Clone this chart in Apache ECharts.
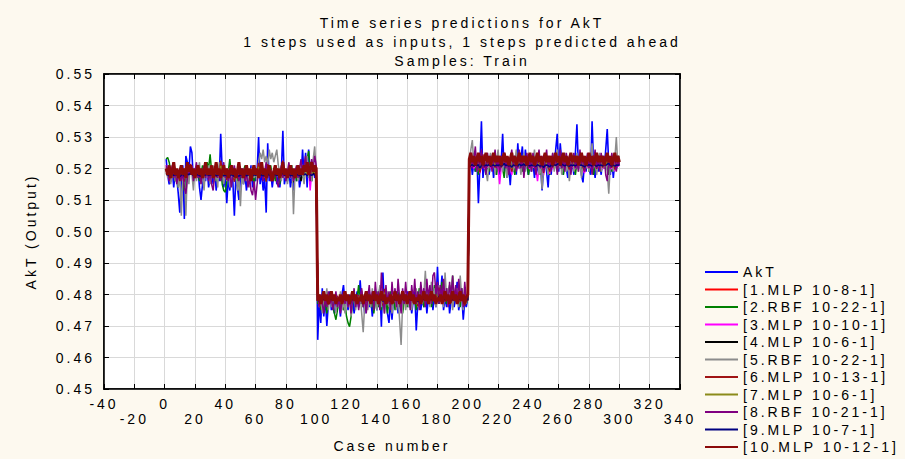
<!DOCTYPE html>
<html>
<head>
<meta charset="utf-8">
<script src="https://cdn.jsdelivr.net/npm/echarts@6/dist/echarts.min.js"></script>
<style>
  html, body { margin: 0; padding: 0; background: #FDF9EF; }
  #chart { width: 905px; height: 459px; }
  #chart svg text { letter-spacing: 3px; }
</style>
</head>
<body>
<div id="chart"></div>
<script>
const seriesNames = ['AkT', '[1.MLP 10-8-1]', '[2.RBF 10-22-1]', '[3.MLP 10-10-1]', '[4.MLP 10-6-1]',
  '[5.RBF 10-22-1]', '[6.MLP 10-13-1]', '[7.MLP 10-6-1]', '[8.RBF 10-21-1]', '[9.MLP 10-7-1]', '[10.MLP 10-12-1]']
const seriesColors = ['#0000FF', '#FF0000', '#008000', '#FF00FF', '#000000',
  '#8C8C8C', '#A01414', '#8B8B1A', '#800080', '#000080', '#8B0A0A']
const titleLines = ['Time series predictions for AkT', '1 steps used as inputs, 1 steps predicted ahead', 'Samples: Train']

// AkT (target)
const aktValues = [
  0.523,0.518,0.515,0.516,0.520,0.514,0.519,0.517,0.512,0.506,
  0.516,0.521,0.504,0.524,0.522,0.519,0.527,0.525,0.516,0.519,
  0.517,0.520,0.514,0.510,0.515,0.519,0.516,0.521,0.514,0.517,
  0.519,0.515,0.520,0.513,0.518,0.516,0.531,0.519,0.514,0.518,
  0.509,0.517,0.513,0.519,0.516,0.505,0.518,0.514,0.510,0.517,
  0.520,0.515,0.518,0.513,0.519,0.516,0.521,0.514,0.518,0.516,
  0.519,0.530,0.515,0.519,0.513,0.517,0.506,0.528,0.516,0.519,
  0.514,0.518,0.520,0.515,0.518,0.514,0.519,0.532,0.515,0.518,
  0.516,0.520,0.514,0.518,0.513,0.519,0.516,0.520,0.514,0.517,
  0.526,0.518,0.525,0.514,0.526,0.519,0.516,0.521,0.517,0.519,
  0.4656,0.478,0.471,0.482,0.473,0.479,0.470,0.477,0.481,0.475,
  0.479,0.474,0.480,0.476,0.478,0.473,0.480,0.483,0.477,0.479,
  0.475,0.480,0.476,0.479,0.474,0.478,0.481,0.476,0.4845,0.477,
  0.479,0.474,0.478,0.481,0.476,0.479,0.473,0.478,0.480,0.475,
  0.478,0.482,0.4698,0.487,0.476,0.479,0.474,0.471,0.478,0.472,
  0.479,0.476,0.481,0.474,0.478,0.480,0.475,0.479,0.477,0.481,
  0.476,0.479,0.474,0.478,0.481,0.4686,0.477,0.480,0.475,0.479,
  0.476,0.481,0.474,0.479,0.477,0.483,0.475,0.480,0.476,0.4888,
  0.477,0.480,0.486,0.475,0.479,0.476,0.481,0.474,0.478,0.480,
  0.476,0.479,0.484,0.475,0.478,0.480,0.472,0.478,0.476,0.479,
  0.520,0.523,0.518,0.522,0.519,0.524,0.509,0.521,0.535,0.517,
  0.522,0.519,0.524,0.518,0.521,0.523,0.517,0.522,0.519,0.524,
  0.518,0.522,0.531,0.519,0.523,0.517,0.521,0.5147,0.522,0.519,
  0.524,0.518,0.528,0.520,0.523,0.527,0.519,0.526,0.521,0.518,
  0.523,0.519,0.522,0.517,0.524,0.520,0.518,0.522,0.513,0.520,
  0.523,0.519,0.514,0.522,0.518,0.524,0.520,0.526,0.531,0.519,
  0.528,0.522,0.518,0.524,0.520,0.517,0.523,0.519,0.522,0.518,
  0.525,0.534,0.520,0.523,0.518,0.5156,0.522,0.519,0.524,0.520,
  0.518,0.535,0.521,0.517,0.523,0.519,0.522,0.518,0.524,0.520,
  0.526,0.5325,0.521,0.518,0.523,0.517,0.522,0.520,0.524,0.521
]

// 1.MLP 10-8-1
const mlp1Values = [
  0.5192,0.5186,0.5190,0.5184,0.5189,0.5193,0.5185,0.5188,0.5183,0.5187,
  0.5191,0.5185,0.5189,0.5182,0.5190,0.5194,0.5187,0.5191,0.5185,0.5188,
  0.5184,0.5190,0.5186,0.5189,0.5183,0.5188,0.5192,0.5186,0.5190,0.5185,
  0.5189,0.5184,0.5188,0.5191,0.5185,0.5189,0.5183,0.5190,0.5186,0.5188,
  0.5184,0.5189,0.5185,0.5191,0.5187,0.5183,0.5189,0.5185,0.5190,0.5186,
  0.5188,0.5184,0.5190,0.5186,0.5189,0.5185,0.5191,0.5184,0.5188,0.5186,
  0.5190,0.5193,0.5186,0.5189,0.5185,0.5188,0.5183,0.5192,0.5186,0.5189,
  0.5185,0.5188,0.5190,0.5186,0.5189,0.5184,0.5188,0.5194,0.5186,0.5189,
  0.5187,0.5190,0.5185,0.5189,0.5184,0.5190,0.5186,0.5189,0.5185,0.5188,
  0.5192,0.5187,0.5191,0.5185,0.5192,0.5188,0.5186,0.5190,0.5187,0.5189,
  0.4790,0.4784,0.4788,0.4783,0.4789,0.4785,0.4791,0.4784,0.4788,0.4786,
  0.4789,0.4785,0.4788,0.4786,0.4787,0.4784,0.4789,0.4791,0.4785,0.4788,
  0.4784,0.4789,0.4785,0.4788,0.4784,0.4787,0.4790,0.4785,0.4791,0.4786,
  0.4788,0.4784,0.4787,0.4790,0.4785,0.4788,0.4783,0.4787,0.4789,0.4785,
  0.4788,0.4790,0.4783,0.4792,0.4785,0.4788,0.4784,0.4783,0.4788,0.4784,
  0.4789,0.4786,0.4790,0.4784,0.4788,0.4789,0.4785,0.4788,0.4786,0.4790,
  0.4785,0.4788,0.4784,0.4787,0.4790,0.4783,0.4786,0.4789,0.4785,0.4788,
  0.4786,0.4790,0.4784,0.4788,0.4786,0.4790,0.4785,0.4789,0.4786,0.4793,
  0.4786,0.4789,0.4791,0.4785,0.4788,0.4786,0.4790,0.4784,0.4788,0.4789,
  0.4785,0.4788,0.4791,0.4785,0.4787,0.4789,0.4783,0.4787,0.4785,0.4788,
  0.5213,0.5217,0.5212,0.5216,0.5213,0.5218,0.5211,0.5215,0.5221,0.5214,
  0.5216,0.5213,0.5217,0.5212,0.5215,0.5217,0.5213,0.5216,0.5213,0.5217,
  0.5212,0.5215,0.5220,0.5213,0.5216,0.5212,0.5215,0.5211,0.5216,0.5213,
  0.5217,0.5213,0.5219,0.5214,0.5216,0.5218,0.5213,0.5217,0.5215,0.5213,
  0.5216,0.5213,0.5215,0.5212,0.5217,0.5214,0.5213,0.5215,0.5210,0.5214,
  0.5216,0.5213,0.5211,0.5215,0.5213,0.5217,0.5214,0.5218,0.5220,0.5213,
  0.5219,0.5215,0.5213,0.5217,0.5214,0.5212,0.5216,0.5213,0.5215,0.5213,
  0.5218,0.5221,0.5214,0.5216,0.5213,0.5211,0.5215,0.5213,0.5217,0.5214,
  0.5213,0.5222,0.5215,0.5212,0.5216,0.5213,0.5215,0.5213,0.5217,0.5214,
  0.5218,0.5220,0.5215,0.5213,0.5216,0.5212,0.5215,0.5214,0.5217,0.5215
]

// 2.RBF 10-22-1
const rbf2Values = [
  0.523,0.5235,0.522,0.519,0.517,0.520,0.516,0.518,0.514,0.517,
  0.519,0.516,0.513,0.515,0.519,0.521,0.518,0.520,0.516,0.519,
  0.517,0.520,0.516,0.518,0.521,0.517,0.519,0.522,0.520,0.5245,
  0.519,0.517,0.520,0.516,0.519,0.517,0.520,0.515,0.513,0.5125,
  0.516,0.519,0.523,0.518,0.520,0.517,0.519,0.516,0.520,0.518,
  0.516,0.519,0.521,0.517,0.519,0.516,0.520,0.518,0.515,0.519,
  0.517,0.521,0.518,0.520,0.517,0.519,0.516,0.520,0.518,0.521,
  0.517,0.519,0.516,0.520,0.518,0.515,0.519,0.521,0.517,0.519,
  0.516,0.520,0.518,0.521,0.517,0.519,0.516,0.520,0.518,0.522,
  0.517,0.520,0.518,0.523,0.5255,0.519,0.516,0.521,0.518,0.520,
  0.477,0.480,0.475,0.479,0.476,0.478,0.474,0.479,0.477,0.480,
  0.476,0.474,0.472,0.475,0.478,0.476,0.479,0.475,0.477,0.473,
  0.471,0.4698,0.473,0.477,0.480,0.476,0.479,0.483,0.477,0.480,
  0.476,0.479,0.475,0.478,0.481,0.476,0.479,0.474,0.478,0.481,
  0.476,0.479,0.475,0.480,0.477,0.479,0.474,0.478,0.481,0.476,
  0.479,0.475,0.478,0.481,0.476,0.479,0.474,0.478,0.480,0.476,
  0.479,0.476,0.481,0.477,0.479,0.475,0.478,0.482,0.477,0.480,
  0.476,0.479,0.482,0.477,0.480,0.476,0.479,0.483,0.478,0.481,
  0.477,0.480,0.484,0.478,0.481,0.477,0.480,0.483,0.479,0.486,
  0.478,0.481,0.477,0.480,0.476,0.482,0.478,0.480,0.477,0.479,
  0.520,0.524,0.521,0.525,0.519,0.522,0.518,0.523,0.520,0.524,
  0.521,0.518,0.522,0.519,0.523,0.520,0.524,0.521,0.518,0.522,
  0.519,0.523,0.520,0.517,0.522,0.519,0.523,0.520,0.524,0.521,
  0.518,0.522,0.520,0.524,0.521,0.519,0.523,0.520,0.522,0.518,
  0.521,0.524,0.520,0.522,0.519,0.523,0.521,0.518,0.522,0.520,
  0.523,0.520,0.522,0.518,0.521,0.524,0.520,0.522,0.519,0.523,
  0.520,0.522,0.518,0.521,0.524,0.520,0.522,0.519,0.523,0.521,
  0.518,0.522,0.520,0.524,0.521,0.519,0.523,0.520,0.522,0.519,
  0.523,0.521,0.518,0.522,0.520,0.524,0.521,0.519,0.522,0.520,
  0.523,0.520,0.518,0.522,0.519,0.523,0.521,0.520,0.522,0.521
]

// 3.MLP 10-10-1
const mlp3Values = [
  0.5210,0.5195,0.5185,0.5190,0.5200,0.5183,0.5195,0.5188,0.5180,0.5168,
  0.5190,0.5202,0.5165,0.5205,0.5200,0.5193,0.5212,0.5206,0.5185,0.5194,
  0.5188,0.5197,0.5182,0.5174,0.5186,0.5196,0.5187,0.5200,0.5183,0.5190,
  0.5195,0.5185,0.5198,0.5180,0.5194,0.5187,0.5220,0.5195,0.5182,0.5193,
  0.5172,0.5191,0.5180,0.5196,0.5187,0.5165,0.5194,0.5182,0.5174,0.5190,
  0.5198,0.5185,0.5193,0.5180,0.5195,0.5187,0.5200,0.5182,0.5193,0.5187,
  0.5194,0.5215,0.5185,0.5195,0.5180,0.5190,0.5166,0.5212,0.5187,0.5195,
  0.5182,0.5193,0.5198,0.5185,0.5193,0.5182,0.5195,0.5222,0.5185,0.5193,
  0.5187,0.5198,0.5182,0.5193,0.5176,0.5195,0.5187,0.5198,0.5182,0.5190,
  0.5206,0.5193,0.5204,0.5182,0.5206,0.5130,0.5187,0.5200,0.5190,0.5195,
  0.4800,0.4770,0.4788,0.4775,0.4795,0.4780,0.4790,0.4772,0.4787,0.4795,
  0.4782,0.4790,0.4778,0.4793,0.4781,0.4788,0.4777,0.4790,0.4797,0.4785,
  0.4788,0.4779,0.4792,0.4781,0.4790,0.4777,0.4787,0.4794,0.4783,0.4805,
  0.4786,0.4790,0.4778,0.4787,0.4793,0.4781,0.4790,0.4776,0.4787,0.4792,
  0.4780,0.4787,0.4796,0.4770,0.4810,0.4783,0.4790,0.4778,0.4772,0.4787,
  0.4776,0.4790,0.4782,0.4794,0.4778,0.4787,0.4792,0.4780,0.4790,0.4785,
  0.4794,0.4781,0.4790,0.4777,0.4787,0.4793,0.4768,0.4786,0.4794,0.4780,
  0.4790,0.4781,0.4794,0.4778,0.4790,0.4785,0.4798,0.4780,0.4793,0.4782,
  0.4815,0.4786,0.4791,0.4808,0.4780,0.4790,0.4782,0.4794,0.4778,0.4787,
  0.4792,0.4781,0.4790,0.4802,0.4779,0.4788,0.4792,0.4770,0.4787,0.4782,
  0.5210,0.5205,0.5215,0.5200,0.5212,0.5203,0.5217,0.5185,0.5208,0.5240,
  0.5198,0.5213,0.5203,0.5216,0.5200,0.5210,0.5215,0.5198,0.5212,0.5203,
  0.5150,0.5200,0.5208,0.5230,0.5203,0.5213,0.5198,0.5210,0.5180,0.5212,
  0.5203,0.5216,0.5198,0.5222,0.5205,0.5213,0.5220,0.5203,0.5220,0.5208,
  0.5198,0.5213,0.5203,0.5210,0.5195,0.5160,0.5205,0.5198,0.5212,0.5178,
  0.5206,0.5213,0.5203,0.5183,0.5211,0.5198,0.5216,0.5207,0.5220,0.5230,
  0.5203,0.5222,0.5211,0.5198,0.5216,0.5205,0.5192,0.5213,0.5203,0.5211,
  0.5198,0.5217,0.5235,0.5207,0.5213,0.5198,0.5185,0.5211,0.5203,0.5216,
  0.5207,0.5198,0.5238,0.5208,0.5194,0.5213,0.5203,0.5211,0.5198,0.5216,
  0.5206,0.5220,0.5232,0.5207,0.5198,0.5213,0.5192,0.5211,0.5206,0.5215
]

// 4.MLP 10-6-1
const mlp4Values = [
  0.5185,0.5178,0.5172,0.5180,0.5186,0.5176,0.5183,0.5179,0.5175,0.5168,
  0.5181,0.5186,0.5170,0.5188,0.5185,0.5183,0.5191,0.5189,0.5179,0.5183,
  0.5180,0.5184,0.5177,0.5173,0.5178,0.5183,0.5179,0.5185,0.5177,0.5181,
  0.5183,0.5178,0.5184,0.5176,0.5182,0.5179,0.5194,0.5183,0.5177,0.5182,
  0.5172,0.5181,0.5176,0.5183,0.5179,0.5168,0.5182,0.5177,0.5173,0.5181,
  0.5184,0.5178,0.5182,0.5176,0.5183,0.5179,0.5185,0.5177,0.5182,0.5179,
  0.5183,0.5193,0.5178,0.5183,0.5176,0.5181,0.5169,0.5191,0.5179,0.5183,
  0.5177,0.5182,0.5184,0.5178,0.5182,0.5177,0.5183,0.5195,0.5178,0.5182,
  0.5179,0.5184,0.5177,0.5182,0.5156,0.5183,0.5179,0.5184,0.5177,0.5160,
  0.5188,0.5182,0.5188,0.5177,0.5189,0.5183,0.5179,0.5185,0.5181,0.5183,
  0.4795,0.4770,0.4787,0.4776,0.4791,0.4780,0.4788,0.4775,0.4786,0.4790,
  0.4782,0.4788,0.4780,0.4789,0.4783,0.4786,0.4779,0.4787,0.4792,0.4784,
  0.4787,0.4781,0.4788,0.4783,0.4787,0.4780,0.4786,0.4789,0.4783,0.4795,
  0.4785,0.4787,0.4781,0.4786,0.4789,0.4783,0.4787,0.4780,0.4786,0.4788,
  0.4782,0.4786,0.4790,0.4775,0.4800,0.4783,0.4787,0.4781,0.4778,0.4786,
  0.4779,0.4787,0.4783,0.4789,0.4781,0.4786,0.4788,0.4782,0.4787,0.4785,
  0.4789,0.4783,0.4787,0.4781,0.4786,0.4789,0.4773,0.4785,0.4788,0.4782,
  0.4787,0.4783,0.4789,0.4781,0.4787,0.4785,0.4792,0.4782,0.4788,0.4783,
  0.4806,0.4785,0.4788,0.4798,0.4782,0.4787,0.4783,0.4789,0.4781,0.4786,
  0.4788,0.4783,0.4787,0.4796,0.4782,0.4786,0.4788,0.4776,0.4786,0.4783,
  0.5205,0.5210,0.5215,0.5208,0.5214,0.5209,0.5216,0.5195,0.5211,0.5225,
  0.5207,0.5213,0.5209,0.5215,0.5208,0.5212,0.5214,0.5207,0.5213,0.5209,
  0.5215,0.5207,0.5212,0.5222,0.5209,0.5214,0.5207,0.5212,0.5200,0.5213,
  0.5209,0.5215,0.5208,0.5219,0.5210,0.5214,0.5218,0.5209,0.5217,0.5212,
  0.5208,0.5214,0.5209,0.5212,0.5206,0.5215,0.5210,0.5208,0.5213,0.5199,
  0.5211,0.5214,0.5209,0.5201,0.5213,0.5208,0.5215,0.5211,0.5217,0.5222,
  0.5209,0.5219,0.5213,0.5208,0.5215,0.5210,0.5206,0.5214,0.5209,0.5213,
  0.5208,0.5216,0.5224,0.5211,0.5214,0.5208,0.5202,0.5213,0.5209,0.5215,
  0.5211,0.5208,0.5225,0.5212,0.5206,0.5214,0.5209,0.5213,0.5208,0.5215,
  0.5211,0.5217,0.5223,0.5211,0.5208,0.5214,0.5206,0.5213,0.5211,0.5215
]

// 5.RBF 10-22-1
const rbf5Values = [
  0.520,0.517,0.519,0.515,0.518,0.521,0.516,0.519,0.514,0.518,
  0.505,0.517,0.520,0.505,0.519,0.515,0.521,0.518,0.513,0.520,
  0.516,0.519,0.522,0.515,0.518,0.513,0.520,0.517,0.521,0.515,
  0.518,0.521,0.516,0.519,0.514,0.522,0.517,0.520,0.515,0.519,
  0.516,0.520,0.514,0.518,0.521,0.516,0.519,0.513,0.517,0.508,
  0.518,0.515,0.520,0.516,0.519,0.514,0.518,0.521,0.517,0.519,
  0.516,0.522,0.525,0.523,0.526,0.522,0.524,0.521,0.526,0.523,
  0.525,0.522,0.524,0.526,0.521,0.519,0.516,0.520,0.517,0.519,
  0.515,0.519,0.517,0.521,0.5055,0.518,0.520,0.516,0.519,0.522,
  0.518,0.515,0.520,0.524,0.517,0.521,0.516,0.523,0.527,0.519,
  0.481,0.476,0.479,0.474,0.480,0.477,0.482,0.475,0.479,0.476,
  0.480,0.477,0.474,0.479,0.476,0.481,0.475,0.478,0.474,0.480,
  0.476,0.479,0.473,0.478,0.481,0.475,0.479,0.476,0.480,0.474,
  0.468,0.477,0.481,0.475,0.479,0.476,0.482,0.477,0.480,0.475,
  0.479,0.483,0.476,0.480,0.474,0.478,0.481,0.476,0.479,0.474,
  0.478,0.481,0.475,0.479,0.472,0.464,0.477,0.480,0.475,0.479,
  0.476,0.481,0.475,0.479,0.477,0.482,0.476,0.479,0.483,0.477,
  0.480,0.4875,0.478,0.481,0.476,0.484,0.479,0.482,0.476,0.480,
  0.483,0.478,0.481,0.476,0.487,0.479,0.482,0.477,0.481,0.475,
  0.480,0.478,0.482,0.476,0.486,0.479,0.475,0.481,0.477,0.480,
  0.522,0.526,0.529,0.521,0.524,0.519,0.523,0.520,0.525,0.521,
  0.523,0.519,0.516,0.522,0.525,0.520,0.524,0.518,0.522,0.526,
  0.520,0.523,0.519,0.524,0.521,0.517,0.523,0.520,0.525,0.519,
  0.522,0.526,0.520,0.523,0.518,0.522,0.525,0.519,0.523,0.521,
  0.524,0.519,0.522,0.526,0.520,0.523,0.518,0.521,0.5134,0.520,
  0.524,0.521,0.518,0.523,0.520,0.525,0.519,0.522,0.526,0.520,
  0.523,0.518,0.521,0.525,0.519,0.522,0.516,0.521,0.524,0.519,
  0.522,0.525,0.519,0.523,0.517,0.521,0.524,0.520,0.523,0.519,
  0.523,0.528,0.520,0.524,0.518,0.522,0.525,0.519,0.523,0.520,
  0.522,0.519,0.512,0.521,0.524,0.519,0.523,0.530,0.521,0.524
]

// 6.MLP 10-13-1
const mlp6Values = [
  0.5205,0.5190,0.5180,0.5186,0.5198,0.5178,0.5192,0.5183,0.5175,0.5160,
  0.5185,0.5200,0.5158,0.5206,0.5198,0.5191,0.5214,0.5205,0.5180,0.5190,
  0.5183,0.5195,0.5176,0.5165,0.5180,0.5193,0.5182,0.5198,0.5177,0.5186,
  0.5193,0.5180,0.5195,0.5172,0.5190,0.5182,0.5225,0.5192,0.5176,0.5188,
  0.5163,0.5187,0.5173,0.5193,0.5182,0.5158,0.5190,0.5176,0.5165,0.5185,
  0.5196,0.5180,0.5190,0.5173,0.5193,0.5182,0.5198,0.5176,0.5190,0.5182,
  0.5192,0.5218,0.5180,0.5193,0.5173,0.5186,0.5158,0.5214,0.5182,0.5193,
  0.5176,0.5190,0.5196,0.5180,0.5190,0.5176,0.5193,0.5225,0.5180,0.5190,
  0.5182,0.5196,0.5176,0.5190,0.5168,0.5193,0.5182,0.5196,0.5176,0.5186,
  0.5208,0.5190,0.5206,0.5176,0.5208,0.5192,0.5182,0.5198,0.5186,0.5192,
  0.4805,0.4765,0.4790,0.4772,0.4798,0.4778,0.4792,0.4768,0.4788,0.4798,
  0.4780,0.4792,0.4775,0.4796,0.4779,0.4789,0.4773,0.4792,0.4802,0.4784,
  0.4789,0.4776,0.4794,0.4779,0.4792,0.4773,0.4788,0.4797,0.4781,0.4812,
  0.4786,0.4792,0.4775,0.4788,0.4796,0.4779,0.4792,0.4772,0.4788,0.4795,
  0.4777,0.4788,0.4800,0.4765,0.4818,0.4781,0.4792,0.4775,0.4768,0.4788,
  0.4772,0.4792,0.4780,0.4797,0.4775,0.4788,0.4795,0.4778,0.4792,0.4785,
  0.4797,0.4779,0.4792,0.4773,0.4788,0.4796,0.4762,0.4786,0.4797,0.4777,
  0.4792,0.4779,0.4797,0.4775,0.4792,0.4785,0.4802,0.4777,0.4796,0.4780,
  0.4822,0.4786,0.4793,0.4814,0.4777,0.4792,0.4780,0.4797,0.4775,0.4788,
  0.4795,0.4779,0.4792,0.4807,0.4776,0.4789,0.4795,0.4765,0.4788,0.4780,
  0.5208,0.5212,0.5222,0.5206,0.5218,0.5208,0.5225,0.5188,0.5214,0.5245,
  0.5203,0.5218,0.5208,0.5222,0.5205,0.5214,0.5220,0.5203,0.5218,0.5208,
  0.5222,0.5203,0.5214,0.5236,0.5208,0.5218,0.5203,0.5214,0.5190,0.5218,
  0.5208,0.5222,0.5203,0.5228,0.5210,0.5218,0.5226,0.5208,0.5224,0.5212,
  0.5203,0.5218,0.5208,0.5214,0.5199,0.5222,0.5210,0.5203,0.5218,0.5186,
  0.5212,0.5218,0.5208,0.5190,0.5216,0.5203,0.5222,0.5212,0.5226,0.5236,
  0.5208,0.5228,0.5216,0.5203,0.5222,0.5210,0.5197,0.5218,0.5208,0.5216,
  0.5203,0.5222,0.5240,0.5212,0.5218,0.5203,0.5192,0.5216,0.5208,0.5222,
  0.5212,0.5203,0.5242,0.5214,0.5199,0.5218,0.5208,0.5216,0.5203,0.5222,
  0.5212,0.5226,0.5238,0.5212,0.5203,0.5218,0.5197,0.5216,0.5210,0.5220
]

// 7.MLP 10-6-1
const mlp7Values = [
  0.5197,0.5188,0.5182,0.5186,0.5193,0.5181,0.5189,0.5184,0.5179,0.5171,
  0.5186,0.5194,0.5169,0.5197,0.5193,0.5189,0.5201,0.5198,0.5183,0.5189,
  0.5185,0.5191,0.5181,0.5175,0.5183,0.5190,0.5184,0.5193,0.5181,0.5187,
  0.5190,0.5183,0.5192,0.5179,0.5189,0.5185,0.5208,0.5190,0.5181,0.5188,
  0.5174,0.5187,0.5179,0.5191,0.5185,0.5169,0.5189,0.5180,0.5175,0.5186,
  0.5192,0.5183,0.5188,0.5179,0.5190,0.5185,0.5193,0.5181,0.5188,0.5185,
  0.5189,0.5205,0.5183,0.5190,0.5179,0.5186,0.5170,0.5202,0.5184,0.5190,
  0.5181,0.5188,0.5192,0.5183,0.5188,0.5181,0.5190,0.5208,0.5183,0.5188,
  0.5185,0.5192,0.5181,0.5188,0.5177,0.5190,0.5184,0.5192,0.5181,0.5186,
  0.5199,0.5188,0.5198,0.5181,0.5199,0.5189,0.5185,0.5193,0.5187,0.5190,
  0.4796,0.4772,0.4789,0.4777,0.4793,0.4781,0.4789,0.4775,0.4787,0.4793,
  0.4783,0.4789,0.4780,0.4791,0.4782,0.4788,0.4779,0.4789,0.4795,0.4785,
  0.4788,0.4781,0.4790,0.4782,0.4789,0.4779,0.4787,0.4792,0.4784,0.4801,
  0.4786,0.4789,0.4780,0.4787,0.4791,0.4782,0.4789,0.4778,0.4787,0.4790,
  0.4781,0.4787,0.4794,0.4772,0.4806,0.4784,0.4789,0.4780,0.4775,0.4787,
  0.4778,0.4789,0.4783,0.4792,0.4780,0.4787,0.4790,0.4781,0.4789,0.4785,
  0.4792,0.4782,0.4789,0.4779,0.4787,0.4791,0.4770,0.4786,0.4792,0.4781,
  0.4789,0.4782,0.4792,0.4780,0.4789,0.4785,0.4796,0.4781,0.4791,0.4783,
  0.4810,0.4786,0.4790,0.4804,0.4781,0.4789,0.4783,0.4792,0.4780,0.4787,
  0.4790,0.4782,0.4789,0.4799,0.4780,0.4787,0.4790,0.4773,0.4787,0.4783,
  0.5212,0.5214,0.5219,0.5211,0.5217,0.5212,0.5220,0.5198,0.5215,0.5232,
  0.5209,0.5216,0.5212,0.5219,0.5210,0.5215,0.5218,0.5209,0.5216,0.5212,
  0.5219,0.5210,0.5215,0.5227,0.5212,0.5217,0.5209,0.5215,0.5201,0.5216,
  0.5212,0.5219,0.5210,0.5222,0.5213,0.5217,0.5221,0.5212,0.5220,0.5214,
  0.5209,0.5217,0.5212,0.5215,0.5207,0.5218,0.5213,0.5209,0.5216,0.5199,
  0.5214,0.5217,0.5212,0.5201,0.5216,0.5210,0.5219,0.5214,0.5221,0.5227,
  0.5212,0.5222,0.5216,0.5209,0.5219,0.5213,0.5206,0.5217,0.5212,0.5216,
  0.5210,0.5220,0.5229,0.5214,0.5217,0.5209,0.5202,0.5216,0.5212,0.5219,
  0.5214,0.5209,0.5231,0.5215,0.5207,0.5217,0.5212,0.5216,0.5210,0.5219,
  0.5214,0.5221,0.5228,0.5214,0.5209,0.5217,0.5206,0.5216,0.5213,0.5219
]

// 8.RBF 10-21-1
const rbf8Values = [
  0.521,0.519,0.516,0.518,0.521,0.517,0.519,0.515,0.518,0.520,
  0.516,0.519,0.514,0.512,0.517,0.520,0.518,0.521,0.516,0.519,
  0.522,0.517,0.520,0.515,0.519,0.521,0.517,0.520,0.516,0.519,
  0.515,0.513,0.518,0.521,0.517,0.520,0.516,0.519,0.522,0.517,
  0.520,0.516,0.519,0.514,0.518,0.521,0.517,0.520,0.516,0.519,
  0.517,0.520,0.516,0.519,0.514,0.517,0.513,0.5115,0.516,0.510,
  0.515,0.519,0.517,0.520,0.516,0.519,0.522,0.517,0.520,0.516,
  0.519,0.517,0.521,0.516,0.514,0.518,0.521,0.517,0.520,0.516,
  0.519,0.522,0.517,0.520,0.516,0.519,0.521,0.517,0.520,0.523,
  0.518,0.521,0.524,0.519,0.522,0.516,0.523,0.520,0.524,0.521,
  0.479,0.476,0.480,0.477,0.474,0.479,0.476,0.481,0.477,0.479,
  0.475,0.478,0.481,0.476,0.479,0.474,0.478,0.481,0.477,0.480,
  0.476,0.479,0.474,0.478,0.482,0.476,0.480,0.475,0.479,0.482,
  0.476,0.480,0.474,0.479,0.483,0.477,0.481,0.475,0.484,0.478,
  0.481,0.475,0.487,0.479,0.474,0.483,0.477,0.481,0.475,0.484,
  0.478,0.482,0.476,0.485,0.479,0.474,0.482,0.477,0.484,0.478,
  0.481,0.475,0.483,0.478,0.485,0.477,0.481,0.475,0.484,0.479,
  0.482,0.476,0.485,0.479,0.483,0.477,0.486,0.487,0.480,0.484,
  0.477,0.483,0.479,0.485,0.478,0.482,0.476,0.484,0.479,0.486,
  0.478,0.483,0.477,0.485,0.479,0.482,0.476,0.484,0.478,0.480,
  0.522,0.525,0.520,0.523,0.527,0.519,0.524,0.521,0.526,0.520,
  0.523,0.518,0.525,0.521,0.524,0.519,0.522,0.526,0.520,0.523,
  0.519,0.524,0.521,0.525,0.520,0.523,0.518,0.522,0.526,0.521,
  0.524,0.519,0.522,0.526,0.520,0.523,0.517,0.522,0.525,0.520,
  0.523,0.519,0.525,0.521,0.518,0.523,0.526,0.520,0.524,0.519,
  0.522,0.526,0.520,0.523,0.519,0.525,0.521,0.524,0.518,0.522,
  0.526,0.520,0.523,0.519,0.525,0.521,0.524,0.518,0.522,0.525,
  0.520,0.523,0.519,0.526,0.521,0.524,0.519,0.522,0.525,0.520,
  0.523,0.518,0.522,0.526,0.520,0.523,0.519,0.525,0.521,0.524,
  0.518,0.516,0.523,0.520,0.525,0.521,0.524,0.519,0.523,0.521
]

// 9.MLP 10-7-1
const mlp9Values = [
  0.5183,0.5180,0.5177,0.5179,0.5182,0.5178,0.5181,0.5179,0.5177,0.5174,
  0.5179,0.5182,0.5175,0.5184,0.5182,0.5180,0.5185,0.5183,0.5178,0.5180,
  0.5179,0.5181,0.5177,0.5176,0.5178,0.5180,0.5179,0.5182,0.5178,0.5179,
  0.5180,0.5178,0.5181,0.5177,0.5180,0.5179,0.5187,0.5180,0.5177,0.5180,
  0.5176,0.5179,0.5177,0.5180,0.5179,0.5174,0.5180,0.5177,0.5176,0.5179,
  0.5181,0.5178,0.5180,0.5177,0.5180,0.5178,0.5181,0.5177,0.5180,0.5178,
  0.5180,0.5186,0.5178,0.5180,0.5177,0.5179,0.5174,0.5185,0.5178,0.5180,
  0.5177,0.5180,0.5181,0.5178,0.5180,0.5177,0.5180,0.5188,0.5178,0.5180,
  0.5179,0.5181,0.5177,0.5180,0.5176,0.5180,0.5179,0.5181,0.5177,0.5179,
  0.5184,0.5180,0.5183,0.5177,0.5184,0.5180,0.5178,0.5182,0.5179,0.5180,
  0.4786,0.4778,0.4785,0.4780,0.4787,0.4782,0.4785,0.4779,0.4784,0.4786,
  0.4782,0.4785,0.4781,0.4786,0.4783,0.4784,0.4780,0.4785,0.4788,0.4783,
  0.4785,0.4782,0.4786,0.4783,0.4785,0.4781,0.4784,0.4787,0.4783,0.4790,
  0.4784,0.4785,0.4781,0.4784,0.4786,0.4783,0.4785,0.4781,0.4784,0.4786,
  0.4782,0.4785,0.4787,0.4778,0.4791,0.4783,0.4785,0.4781,0.4780,0.4784,
  0.4781,0.4785,0.4783,0.4786,0.4781,0.4784,0.4786,0.4782,0.4785,0.4784,
  0.4786,0.4783,0.4785,0.4781,0.4784,0.4786,0.4777,0.4783,0.4786,0.4782,
  0.4785,0.4783,0.4786,0.4781,0.4785,0.4784,0.4787,0.4782,0.4785,0.4783,
  0.4794,0.4784,0.4786,0.4790,0.4782,0.4785,0.4783,0.4786,0.4781,0.4784,
  0.4786,0.4783,0.4785,0.4789,0.4782,0.4784,0.4786,0.4779,0.4784,0.4783,
  0.5207,0.5209,0.5212,0.5208,0.5211,0.5209,0.5212,0.5201,0.5210,0.5219,
  0.5208,0.5211,0.5209,0.5212,0.5208,0.5210,0.5211,0.5208,0.5211,0.5209,
  0.5212,0.5208,0.5210,0.5216,0.5209,0.5211,0.5208,0.5210,0.5204,0.5211,
  0.5209,0.5212,0.5208,0.5214,0.5209,0.5211,0.5214,0.5209,0.5213,0.5210,
  0.5208,0.5211,0.5209,0.5210,0.5207,0.5212,0.5209,0.5208,0.5211,0.5203,
  0.5210,0.5211,0.5209,0.5205,0.5211,0.5208,0.5212,0.5210,0.5213,0.5216,
  0.5209,0.5214,0.5211,0.5208,0.5212,0.5209,0.5207,0.5211,0.5209,0.5211,
  0.5208,0.5212,0.5217,0.5210,0.5211,0.5208,0.5205,0.5211,0.5209,0.5212,
  0.5210,0.5208,0.5218,0.5210,0.5207,0.5211,0.5209,0.5211,0.5208,0.5212,
  0.5210,0.5213,0.5216,0.5210,0.5208,0.5211,0.5207,0.5211,0.5210,0.5212
]

// 10.MLP 10-12-1
const mlp10Values = [
  0.520,0.518,0.521,0.517,0.519,0.522,0.518,0.520,0.517,0.519,
  0.521,0.518,0.520,0.517,0.522,0.519,0.521,0.518,0.520,0.517,
  0.519,0.521,0.518,0.520,0.517,0.519,0.522,0.518,0.520,0.518,
  0.521,0.517,0.519,0.522,0.518,0.520,0.517,0.519,0.521,0.518,
  0.520,0.517,0.519,0.521,0.518,0.520,0.517,0.519,0.522,0.518,
  0.520,0.517,0.519,0.521,0.518,0.520,0.516,0.519,0.521,0.518,
  0.520,0.517,0.519,0.522,0.518,0.520,0.517,0.519,0.521,0.518,
  0.516,0.519,0.521,0.518,0.520,0.517,0.519,0.522,0.518,0.520,
  0.517,0.519,0.521,0.518,0.520,0.517,0.519,0.521,0.518,0.520,
  0.518,0.521,0.519,0.522,0.518,0.520,0.522,0.519,0.521,0.520,
  0.478,0.480,0.477,0.479,0.481,0.478,0.480,0.477,0.479,0.481,
  0.478,0.480,0.477,0.479,0.478,0.480,0.477,0.479,0.481,0.478,
  0.480,0.477,0.479,0.481,0.478,0.480,0.477,0.479,0.478,0.480,
  0.477,0.479,0.481,0.478,0.480,0.477,0.479,0.481,0.478,0.480,
  0.477,0.479,0.481,0.478,0.480,0.477,0.479,0.478,0.480,0.477,
  0.479,0.481,0.478,0.480,0.477,0.479,0.481,0.478,0.480,0.477,
  0.479,0.481,0.478,0.480,0.477,0.479,0.478,0.480,0.477,0.479,
  0.481,0.478,0.480,0.477,0.479,0.481,0.478,0.480,0.477,0.479,
  0.478,0.480,0.477,0.479,0.481,0.478,0.480,0.477,0.479,0.481,
  0.478,0.480,0.477,0.479,0.481,0.478,0.480,0.477,0.479,0.480,
  0.523,0.525,0.522,0.524,0.521,0.523,0.525,0.522,0.524,0.521,
  0.523,0.525,0.522,0.524,0.521,0.523,0.525,0.522,0.524,0.522,
  0.524,0.521,0.523,0.525,0.522,0.524,0.521,0.523,0.525,0.522,
  0.524,0.521,0.523,0.525,0.522,0.524,0.522,0.524,0.521,0.523,
  0.525,0.522,0.524,0.521,0.523,0.525,0.522,0.524,0.521,0.523,
  0.525,0.522,0.524,0.522,0.524,0.521,0.523,0.525,0.522,0.524,
  0.521,0.523,0.525,0.522,0.524,0.521,0.523,0.525,0.522,0.524,
  0.522,0.524,0.521,0.523,0.525,0.522,0.524,0.521,0.523,0.525,
  0.522,0.524,0.521,0.523,0.525,0.522,0.524,0.522,0.524,0.521,
  0.523,0.525,0.522,0.524,0.521,0.523,0.525,0.522,0.524,0.522
]

const allValues = [aktValues, mlp1Values, rbf2Values, mlp3Values, mlp4Values, rbf5Values,
  mlp6Values, mlp7Values, rbf8Values, mlp9Values, mlp10Values]
const lineWidths = [1.6, 1.5, 1.5, 1.5, 1.5, 1.5, 1.5, 1.5, 1.5, 1.5, 3]

const FONT = '"Liberation Sans", Arial, sans-serif'

const chart = echarts.init(document.getElementById('chart'), null, { renderer: 'svg' })

const series = allValues.map((vals, k) => ({
  name: seriesNames[k],
  type: 'line',
  symbol: 'none',
  data: vals.map((v, i) => [i + 1, v]),
  lineStyle: { color: seriesColors[k], width: lineWidths[k] },
  itemStyle: { color: seriesColors[k] },
  z: 2 + k
}))

const xBase = {
  type: 'value', min: -40, max: 340, interval: 20,
  axisLine: { onZero: false, lineStyle: { color: '#000', width: 1.5 } },
  axisTick: { inside: true, length: 5, lineStyle: { color: '#000' } },
  splitLine: { show: false }
}
const yBase = {
  type: 'value', min: 0.45, max: 0.55, interval: 0.01,
  axisLine: { onZero: false, lineStyle: { color: '#000', width: 1.5 } },
  axisTick: { inside: true, length: 5, lineStyle: { color: '#000' } },
  splitLine: { show: false }
}

const option = {
  backgroundColor: '#FDF9EF',
  animation: false,
  textStyle: { fontFamily: FONT, color: '#000' },
  title: {
    text: titleLines.join('\n'),
    left: 462,
    top: 13,
    padding: 0,
    textAlign: 'center',
    textStyle: { fontFamily: FONT, fontSize: 14, fontWeight: 'normal', color: '#000', lineHeight: 19 }
  },
  legend: {
    orient: 'vertical',
    left: 705,
    top: 265,
    padding: 0,
    icon: 'rect',
    itemWidth: 33,
    itemHeight: 2,
    itemGap: 3.5,
    data: seriesNames,
    textStyle: { fontFamily: FONT, fontSize: 14, lineHeight: 14, color: '#000' }
  },
  grid: {
    left: 104, right: 225, top: 74, bottom: 70,
    show: true, backgroundColor: '#FFFFFF', borderColor: '#000', borderWidth: 1.5
  },
  xAxis: [
    Object.assign({}, xBase, {
      position: 'bottom',
      name: 'Case number',
      nameLocation: 'middle',
      nameGap: 50,
      nameTextStyle: { fontFamily: FONT, fontSize: 14, color: '#000' },
      splitLine: { show: true, lineStyle: { color: '#D9D9D9', width: 1 } },
      axisLabel: {
        color: '#000', fontSize: 14, fontFamily: FONT, margin: 7, lineHeight: 15,
        formatter: v => (Math.round((v + 40) / 20) % 2 ? '\n' + v : String(v))
      }
    }),
    Object.assign({}, xBase, { position: 'top', axisLabel: { show: false } })
  ],
  yAxis: [
    Object.assign({}, yBase, {
      position: 'left',
      name: 'AkT (Output)',
      nameLocation: 'middle',
      nameRotate: 90,
      nameGap: 66,
      nameTextStyle: { fontFamily: FONT, fontSize: 14, color: '#000' },
      splitLine: { show: true, lineStyle: { color: '#D9D9D9', width: 1 } },
      axisLabel: {
        color: '#000', fontSize: 14, fontFamily: FONT, margin: 9,
        formatter: v => v.toFixed(2)
      }
    }),
    Object.assign({}, yBase, { position: 'right', axisLabel: { show: false } })
  ],
  series: series
}

chart.setOption(option)
</script>
</body>
</html>
